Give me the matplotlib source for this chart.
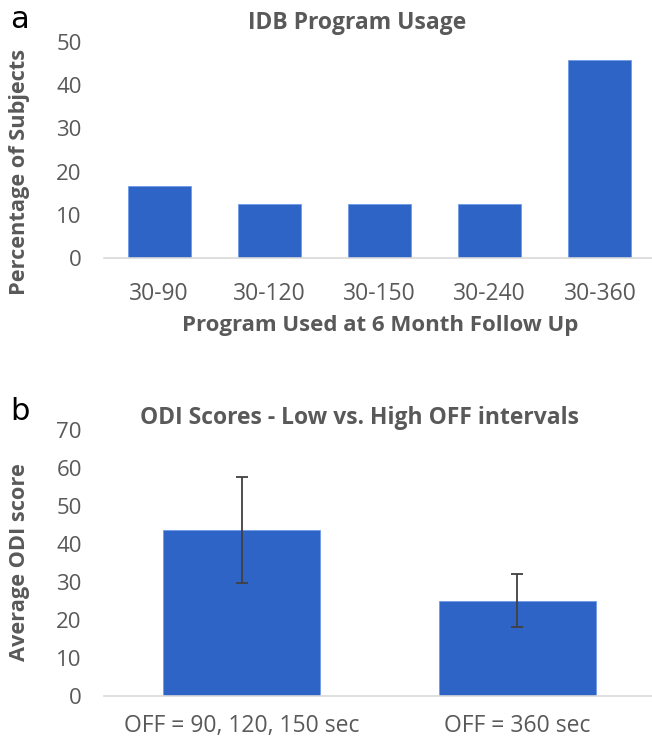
import matplotlib.pyplot as plt

# panel a - program usage at 6 month follow up
programs = ["30-90", "30-120", "30-150", "30-240", "30-360"]
usage_pct = [16.7, 12.5, 12.5, 12.5, 45.8]

# panel b - ODI scores for low vs high OFF intervals
groups = ["OFF = 90, 120, 150 sec", "OFF = 360 sec"]
odi_mean = [43.7, 25.1]
odi_err = [14.0, 7.0]

BAR = "#2E64C6"
GREY = "#595959"
W, H = 652, 741

plt.rcParams["font.family"] = ["Open Sans", "DejaVu Sans"]

fig = plt.figure(figsize=(W / 100, H / 100), dpi=100)


def px_axes(left, top, right, bottom):
    return fig.add_axes([left / W, 1 - bottom / H, (right - left) / W, (bottom - top) / H])


def style(ax, pad_x):
    for s in ["top", "right", "left"]:
        ax.spines[s].set_visible(False)
    ax.spines["bottom"].set_color("#D9D9D9")
    ax.spines["bottom"].set_linewidth(1.2)
    ax.tick_params(axis="y", length=0, pad=16, labelsize=16, labelcolor=GREY)
    ax.tick_params(axis="x", length=0, pad=pad_x, labelsize=16.5, labelcolor=GREY)


# a
ax1 = px_axes(104, 42, 655, 258)
ax1.bar(range(len(programs)), usage_pct, width=0.57, color=BAR, edgecolor="#6F9BE8", linewidth=0.6)
ax1.set_xlim(-0.5, len(programs) - 0.5)
ax1.set_ylim(0, 50)
ax1.set_yticks(range(0, 51, 10))
ax1.set_xticks(range(len(programs)))
ax1.set_xticklabels(programs)
style(ax1, 17)

fig.text(357 / W, 1 - 23 / H, "IDB Program Usage", ha="center", va="center",
         fontsize=16.5, fontweight="bold", color=GREY)
fig.text(380 / W, 1 - 325 / H, "Program Used at 6 Month Follow Up", ha="center", va="center",
         fontsize=16, fontweight="bold", color=GREY)
fig.text(20 / W, 1 - 172 / H, "Percentage of Subjects", ha="center", va="center",
         rotation=90, fontsize=15.7, fontweight="bold", color=GREY)
fig.text(20 / W, 1 - 19 / H, "a", ha="center", va="center", fontsize=22,
         family="DejaVu Sans", color="black")

# b
ax2 = px_axes(104, 430, 655, 696)
ax2.bar(range(len(groups)), odi_mean, width=0.57, color=BAR, edgecolor="#6F9BE8", linewidth=0.6,
        yerr=odi_err, error_kw=dict(ecolor="#404040", elinewidth=1.3, capsize=4, capthick=1.3))
ax2.set_xlim(-0.5, len(groups) - 0.5)
ax2.set_ylim(0, 70)
ax2.set_yticks(range(0, 71, 10))
ax2.set_xticks(range(len(groups)))
ax2.set_xticklabels(groups)
style(ax2, 13)

fig.text(359 / W, 1 - 418 / H, "ODI Scores - Low vs. High OFF intervals", ha="center", va="center",
         fontsize=16.5, fontweight="bold", color=GREY)
fig.text(20 / W, 1 - 562 / H, "Average ODI score", ha="center", va="center",
         rotation=90, fontsize=15.7, fontweight="bold", color=GREY)
fig.text(20 / W, 1 - 411 / H, "b", ha="center", va="center", fontsize=22,
         family="DejaVu Sans", color="black")

fig.savefig("out.png", dpi=100)
